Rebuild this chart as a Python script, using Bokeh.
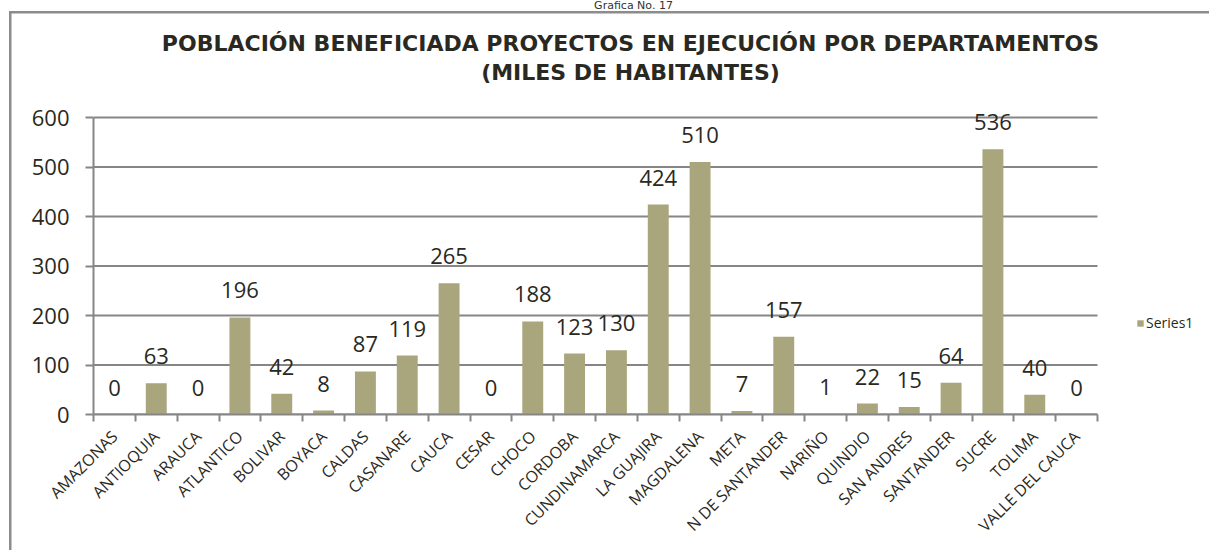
import math
from bokeh.plotting import figure
from bokeh.models import (Range1d, FixedTicker, CustomJSTickFormatter, Label,
                          Legend, LegendItem, ColumnDataSource)
from bokeh.embed import file_html
from bokeh.resources import INLINE
from bokeh.core.properties import value

# ---- data ----
departamentos = ["AMAZONAS", "ANTIOQUIA", "ARAUCA", "ATLANTICO", "BOLIVAR", "BOYACA",
                 "CALDAS", "CASANARE", "CAUCA", "CESAR", "CHOCO", "CORDOBA",
                 "CUNDINAMARCA", "LA GUAJIRA", "MAGDALENA", "META", "N DE SANTANDER",
                 "NARIÑO", "QUINDIO", "SAN ANDRES", "SANTANDER", "SUCRE", "TOLIMA",
                 "VALLE DEL CAUCA"]
poblacion = [0, 63, 0, 196, 42, 8, 87, 119, 265, 0, 188, 123, 130, 424, 510, 7, 157,
             1, 22, 15, 64, 536, 40, 0]
y_ticks = [0, 100, 200, 300, 400, 500, 600]
series_name = "Series1"
header = "Grafica No. 17"
title_line1 = "POBLACIÓN BENEFICIADA PROYECTOS EN EJECUCIÓN POR DEPARTAMENTOS"
title_line2 = "(MILES DE HABITANTES)"

BAR = "#A9A57C"
GRID = "#868686"
TXT = "#2a2921"
FONT = "Open Sans"
TFONT = "DejaVu Sans"

n = len(departamentos)
y_max = y_ticks[-1]
centers = [i + 0.5 for i in range(n)]
bounds = list(range(n + 1))

# layout (pixels)
W, H = 1209, 550
AX_LEFT, AX_RIGHT = 93, 1097     # category axis extent
AX_ZERO, AX_TOP = 414, 117       # y = 0 and y = 600
x_end = n * (W - AX_LEFT) / (AX_RIGHT - AX_LEFT)
y_end = y_max * AX_ZERO / (AX_ZERO - AX_TOP)

src = ColumnDataSource(dict(x=centers, y=poblacion, lbl=[str(v) for v in poblacion]))
grid_src = ColumnDataSource(dict(x0=[0] * len(y_ticks), x1=[n] * len(y_ticks),
                                 y=y_ticks))

p = figure(width=W, height=H, output_backend="svg", toolbar_location=None,
           x_range=Range1d(0, x_end), y_range=Range1d(0, y_end),
           min_border_left=AX_LEFT, min_border_right=0, min_border_top=0,
           min_border_bottom=H - AX_ZERO)
p.outline_line_color = None
p.background_fill_alpha = 0
p.border_fill_alpha = 0
# outer chart frame (left and top edges) drawn as page background
p.styles = {"background": "linear-gradient(#8c8c8c,#8c8c8c) 9px 11px / 2.5px 700px no-repeat, "
                          "linear-gradient(#8c8c8c,#8c8c8c) 9px 11px / 1400px 2.5px no-repeat, "
                          "#ffffff"}

p.xgrid.grid_line_color = None
p.ygrid.grid_line_color = None
p.segment(x0="x0", x1="x1", y0="y", y1="y", source=grid_src,
          line_color=GRID, line_width=2)

bars = p.vbar(x="x", top="y", width=0.5, source=src, fill_color=BAR, line_color=None)
p.text(x="x", y="y", text="lbl", source=src, text_align="center",
       text_baseline="alphabetic", y_offset=-27, text_font=value(FONT),
       text_font_size="22px", text_color=TXT)

# x axis
xa = p.xaxis[0]
xa.bounds = (0, n)
xa.ticker = FixedTicker(ticks=centers, minor_ticks=bounds)
xa.formatter = CustomJSTickFormatter(args=dict(labels=departamentos),
                                     code="return labels[Math.floor(tick)];")
xa.major_tick_line_color = None
xa.major_tick_out = 0
xa.major_tick_in = 0
xa.minor_tick_out = 7
xa.minor_tick_in = 0
xa.minor_tick_line_color = GRID
xa.minor_tick_line_width = 2
xa.axis_line_color = GRID
xa.axis_line_width = 2
xa.major_label_orientation = math.pi / 4
xa.major_label_standoff = 12
xa.major_label_text_font = FONT
xa.major_label_text_font_size = "16px"
xa.major_label_text_color = TXT

# y axis
ya = p.yaxis[0]
ya.bounds = (0, y_max)
ya.ticker = FixedTicker(ticks=y_ticks)
ya.minor_tick_line_color = None
ya.major_tick_out = 8
ya.major_tick_in = 0
ya.major_tick_line_color = GRID
ya.major_tick_line_width = 2
ya.axis_line_color = GRID
ya.axis_line_width = 2
ya.major_label_standoff = 16
ya.major_label_text_font = FONT
ya.major_label_text_font_size = "22px"
ya.major_label_text_color = TXT

# titles (screen units are measured from the plot frame's bottom-left corner)
title_cx = 630 - AX_LEFT
for txt, bottom in ((title_line1, 55), (title_line2, 84)):
    p.add_layout(Label(x=title_cx, y=AX_ZERO - bottom, x_units="screen", y_units="screen",
                       text=txt, text_align="center", text_baseline="bottom",
                       text_font=TFONT, text_font_style="bold",
                       text_font_size="22px", text_color=TXT))
p.add_layout(Label(x=633 - AX_LEFT, y=AX_ZERO - 11.5, x_units="screen", y_units="screen",
                   text=header, text_align="center", text_baseline="bottom",
                   text_font=TFONT, text_font_size="11px", text_color="#333333"))

legend = Legend(items=[LegendItem(label=series_name, renderers=[bars])],
                location=(1136 - AX_LEFT, AX_ZERO - 332), glyph_width=8, glyph_height=8,
                label_text_font=FONT, label_text_font_size="14px",
                label_text_color=TXT, label_standoff=2, padding=0, margin=0,
                border_line_color=None, background_fill_alpha=0)
p.add_layout(legend)

open("out.html", "w").write(file_html(p, INLINE))
